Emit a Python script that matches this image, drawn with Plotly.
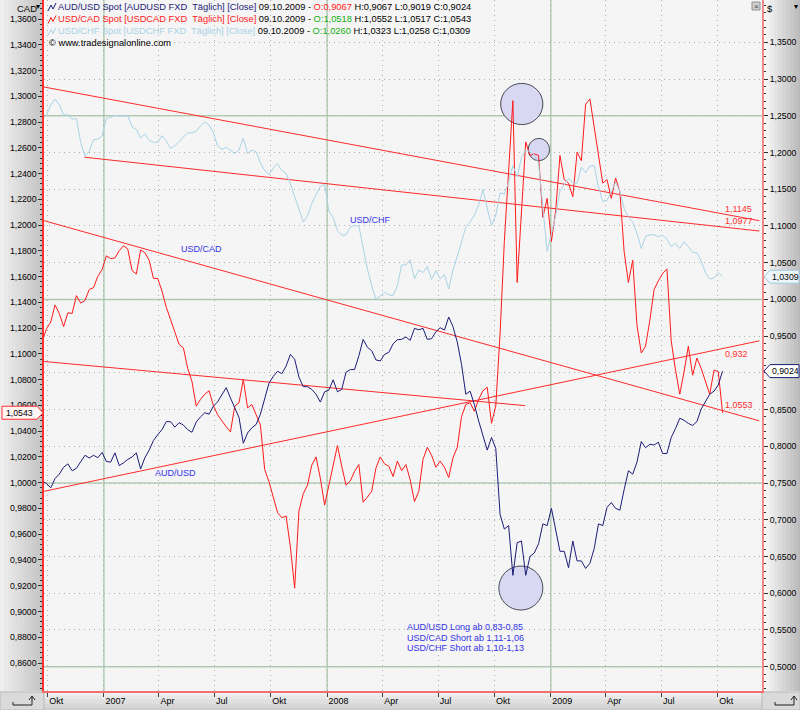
import plotly.graph_objects as go
import pandas as pd

# ---------------- data ----------------
week_dates = pd.date_range("2006-09-22", periods=160, freq="7D")

usdcad = [1.1100, 1.1194, 1.1247, 1.1380, 1.1314, 1.1212, 1.1319, 1.1314, 1.1452, 1.1394,
          1.1415, 1.1500, 1.1514, 1.1602, 1.1655, 1.1761, 1.1740, 1.1745, 1.1801, 1.1839,
          1.1815, 1.1647, 1.1620, 1.1807, 1.1785, 1.1727, 1.1586, 1.1586, 1.1487, 1.1362,
          1.1266, 1.1167, 1.1074, 1.1047, 1.0887, 1.0786, 1.0594, 1.0647, 1.0687, 1.0714,
          1.0599, 1.0527, 1.0479, 1.0434, 1.0394, 1.0594, 1.0621, 1.0802, 1.0581, 1.0607,
          1.0527, 1.0447, 1.0101, 1.0008, 0.9888, 0.9768, 0.9728, 0.9741, 0.9501, 0.9181,
          0.9781, 0.9914, 0.9981, 1.0136, 1.0200, 1.0034, 0.9826, 0.9981, 1.0141, 1.0288,
          1.0128, 0.9981, 1.0013, 1.0088, 1.0141, 0.9848, 0.9888, 0.9933, 1.0114, 1.0200,
          1.0146, 1.0128, 1.0048, 1.0168, 1.0093, 1.0141, 1.0021, 0.9853, 0.9933, 1.0181,
          1.0274, 1.0213, 1.0120, 1.0168, 1.0120, 1.0040, 1.0194, 1.0274, 1.0514, 1.0607,
          1.0621, 1.0554, 1.0647, 1.0714, 1.0741, 1.0461, 1.0594, 1.1154, 1.1873, 1.2380,
          1.2966, 1.1554, 1.2140, 1.2646, 1.2540, 1.2553, 1.2540, 1.2060, 1.2207, 1.1873,
          1.2113, 1.2540, 1.2353, 1.2326, 1.2220, 1.2566, 1.2500, 1.2939, 1.2979, 1.2753,
          1.2540, 1.2326, 1.2353, 1.2207, 1.2366, 1.2260, 1.1793, 1.1554, 1.1727, 1.1220,
          1.1007, 1.1060, 1.1260, 1.1500, 1.1567, 1.1625, 1.1660, 1.1100, 1.0874, 1.0687,
          1.0861, 1.1060, 1.0834, 1.0967, 1.0887, 1.0781, 1.0687, 1.0874, 1.0861, 1.0543]

audusd = [0.7528, 0.7495, 0.7435, 0.7561, 0.7621, 0.7715, 0.7761, 0.7668, 0.7701, 0.7794,
          0.7878, 0.7841, 0.7878, 0.7845, 0.7916, 0.7794, 0.7785, 0.7911, 0.7738, 0.7775,
          0.7822, 0.7855, 0.7911, 0.7691, 0.7845, 0.7948, 0.8079, 0.8158, 0.8228, 0.8336,
          0.8336, 0.8261, 0.8322, 0.8289, 0.8228, 0.8191, 0.8331, 0.8401, 0.8457, 0.8438,
          0.8546, 0.8606, 0.8704, 0.8798, 0.8658, 0.8532, 0.8392, 0.8042, 0.8182, 0.8252,
          0.8298, 0.8438, 0.8662, 0.8859, 0.8952, 0.9022, 0.8989, 0.9092, 0.9251, 0.9185,
          0.8943, 0.8812, 0.8812, 0.8775, 0.8709, 0.8602, 0.8742, 0.8765, 0.8905, 0.8742,
          0.8775, 0.9008, 0.9045, 0.9045, 0.9232, 0.9456, 0.9349, 0.9302, 0.9176, 0.9162,
          0.9251, 0.9279, 0.9395, 0.9451, 0.9456, 0.9489, 0.9442, 0.9606, 0.9587, 0.9606,
          0.9456, 0.9465, 0.9559, 0.9615, 0.9582, 0.9760, 0.9629, 0.9419, 0.9115, 0.8709,
          0.8751, 0.8569, 0.8345, 0.8158, 0.7948, 0.8121, 0.7972, 0.7075, 0.6874, 0.6921,
          0.6244, 0.6688, 0.6711, 0.6244, 0.6501, 0.6548, 0.6674, 0.6944, 0.6921, 0.7155,
          0.6851, 0.6571, 0.6571, 0.6347, 0.6711, 0.6440, 0.6440, 0.6338, 0.6408, 0.6608,
          0.6944, 0.6921, 0.7169, 0.7234, 0.7155, 0.7131, 0.7411, 0.7668, 0.7621, 0.7785,
          0.8065, 0.7981, 0.8028, 0.8018, 0.8056, 0.7902, 0.7902, 0.8121, 0.8242, 0.8382,
          0.8354, 0.8312, 0.8284, 0.8336, 0.8508, 0.8616, 0.8709, 0.8751, 0.8835, 0.9024]

usdchf = [1.2453, 1.2509, 1.2649, 1.2724, 1.2649, 1.2509, 1.2514, 1.2453, 1.2463, 1.2136,
          1.1949, 1.2014, 1.2173, 1.2183, 1.2229, 1.2467, 1.2477, 1.2505, 1.2500, 1.2495,
          1.2509, 1.2346, 1.2313, 1.2197, 1.2253, 1.2164, 1.2141, 1.2136, 1.2229, 1.2155,
          1.2056, 1.2089, 1.2150, 1.2211, 1.2267, 1.2267, 1.2290, 1.2360, 1.2416, 1.2374,
          1.2267, 1.2089, 1.2042, 1.2070, 1.2024, 1.1986, 1.2033, 1.2197, 1.1986, 1.2033,
          1.2010, 1.1860, 1.1753, 1.1697, 1.1790, 1.1846, 1.1753, 1.1716, 1.1576, 1.1403,
          1.1240, 1.1053, 1.1137, 1.1305, 1.1426, 1.1538, 1.1566, 1.1202, 1.1113, 1.0936,
          1.0875, 1.0875, 1.0983, 1.1006, 1.0997, 1.0703, 1.0413, 1.0189, 1.0002, 1.0049,
          1.0096, 1.0063, 1.0049, 1.0189, 1.0469, 1.0469, 1.0539, 1.0282, 1.0399, 1.0366,
          1.0446, 1.0273, 1.0390, 1.0282, 1.0338, 1.0142, 1.0399, 1.0586, 1.0773, 1.0983,
          1.1053, 1.1146, 1.1286, 1.1496, 1.1240, 1.1006, 1.1146, 1.1450, 1.1436, 1.1590,
          1.1823, 1.1669, 1.1930, 1.2033, 1.2010, 1.1963, 1.1856, 1.1263, 1.0656, 1.0889,
          1.1146, 1.1473, 1.1566, 1.1646, 1.1590, 1.1580, 1.1800, 1.1725, 1.1814, 1.1823,
          1.1529, 1.1333, 1.1347, 1.1473, 1.1594, 1.1473, 1.1240, 1.1118, 1.1053, 1.0899,
          1.0693, 1.0861, 1.0880, 1.0880, 1.0852, 1.0875, 1.0819, 1.0717, 1.0763, 1.0693,
          1.0787, 1.0717, 1.0642, 1.0633, 1.0525, 1.0362, 1.0278, 1.0292, 1.0362, 1.0309]

quarter_ticks = ["2006-10-01", "2007-01-01", "2007-04-01", "2007-07-01", "2007-10-01",
                 "2008-01-01", "2008-04-01", "2008-07-01", "2008-10-01", "2009-01-01",
                 "2009-04-01", "2009-07-01", "2009-10-01"]
quarter_labels = ["Okt", "2007", "Apr", "Jul", "Okt", "2008", "Apr", "Jul", "Okt", "2009",
                  "Apr", "Jul", "Okt"]
year_lines = ["2007-01-01", "2008-01-01", "2009-01-01"]

left_ticks = [0.86, 0.88, 0.90, 0.92, 0.94, 0.96, 0.98, 1.00, 1.02, 1.04, 1.06, 1.08, 1.10,
              1.12, 1.14, 1.16, 1.18, 1.20, 1.22, 1.24, 1.26, 1.28, 1.30, 1.32, 1.34, 1.36]
right_ticks = [0.50, 0.55, 0.60, 0.65, 0.70, 0.75, 0.80, 0.85, 0.90, 0.95, 1.00, 1.05,
               1.10, 1.15, 1.20, 1.25, 1.30, 1.35]
right_hidden_labels = [0.90]   # covered by the last-value box in the original
right_major_lines = [0.50, 0.75, 1.00, 1.25]

# hand drawn trend lines (date, CAD-axis value)
trend_x0 = ["2006-09-25", "2006-11-30", "2006-09-25", "2006-09-25", "2006-09-25"]
trend_x1 = ["2009-12-08", "2009-12-08", "2009-12-08", "2008-11-20", "2009-12-08"]
trend_y0 = [1.3072, 1.2527, 1.2034, 1.0941, 0.9933]
trend_y1 = [1.2034, 1.1954, 1.0480, 1.0598, 1.1101]
trend_labels = ["1,1145", "1,0977", "1,0553", "0,932"]

# circled areas (date range, CAD-axis value range)
circle_x0 = ["2008-10-11", "2008-11-25", "2008-10-08"]
circle_x1 = ["2008-12-19", "2008-12-30", "2008-12-19"]
circle_y0 = [1.2780, 1.2500, 0.9011]
circle_y1 = [1.3100, 1.2673, 0.9353]

# ---------------- layout helpers ----------------
W, H = 800, 710
L, R, T, B = 44, 762, 0, 691
Y1_RANGE = [0.83826, 1.37475]
Y2_RANGE = [0.46692, 1.40758]
X_RANGE = ["2006-09-24 23:00", "2009-12-12 12:00"]


def px(p):
    return (p - L) / (R - L)


def py(p):
    return (B - p) / (B - T)


def y1_px(v):
    return T + (Y1_RANGE[1] - v) / (Y1_RANGE[1] - Y1_RANGE[0]) * (B - T)


def y2_px(v):
    return T + (Y2_RANGE[1] - v) / (Y2_RANGE[1] - Y2_RANGE[0]) * (B - T)


def fmt(v):
    return f"{v:.4f}".replace(".", ",")


FONT = "Liberation Sans, Arial, sans-serif"
RED = "#ff1a1a"
NAVY = "#1c1c78"
LBLUE = "#a9d3e6"
TXTBLUE = "#3232e6"
FS = 9

fig = go.Figure()

fig.add_trace(go.Scatter(x=week_dates, y=usdchf, yaxis="y2", mode="lines",
                         line=dict(color=LBLUE, width=1), name="USD/CHF"))
fig.add_trace(go.Scatter(x=week_dates, y=audusd, yaxis="y2", mode="lines",
                         line=dict(color=NAVY, width=1), name="AUD/USD"))
fig.add_trace(go.Scatter(x=week_dates, y=usdcad, yaxis="y", mode="lines",
                         line=dict(color=RED, width=1), name="USD/CAD"))
for a, b, c, d in zip(trend_x0, trend_x1, trend_y0, trend_y1):
    fig.add_trace(go.Scatter(x=[a, b], y=[c, d], yaxis="y", mode="lines",
                             line=dict(color="#ff2a2a", width=1)))

shapes = []
# panels (gradients approximated with strips)
n = 11
for i in range(n):
    t = i / (n - 1)
    g = int(238 - t * (238 - 196))
    shapes.append(dict(type="rect", xref="paper", yref="paper", layer="below",
                       x0=px(i * 4), x1=px(i * 4 + 4), y0=py(B), y1=py(0),
                       line=dict(width=0), fillcolor=f"rgb({g},{g},{g})"))
for i in range(10):
    t = i / 9
    g = int(248 - t * (248 - 186))
    shapes.append(dict(type="rect", xref="paper", yref="paper", layer="below",
                       x0=px(R + 1 + i * 3.8), x1=px(R + 1 + (i + 1) * 3.8), y0=py(B), y1=py(0),
                       line=dict(width=0), fillcolor=f"rgb({g},{g},{g})"))
for i in range(5):
    t = i / 4
    g = int(240 - t * (240 - 206))
    shapes.append(dict(type="rect", xref="paper", yref="paper", layer="below",
                       x0=px(0), x1=px(W), y0=py(B + 1 + i * 3.8), y1=py(B + 1 + (i + 1) * 3.8),
                       line=dict(width=0), fillcolor=f"rgb({g},{g},{g})"))
# corner boxes at bottom
for xa, xb in [(0, L), (R, W)]:
    shapes.append(dict(type="rect", xref="paper", yref="paper", layer="below",
                       x0=px(xa), x1=px(xb), y0=py(H), y1=py(B + 1),
                       line=dict(color="#b8b8b8", width=1), fillcolor="#dadada"))
# corner arrow icons
for xo in [13, 775]:
    shapes.append(dict(type="path", xref="paper", yref="paper",
                       path=f"M {px(xo)},{py(702)} L {px(xo)},{py(705)} L {px(xo + 19)},{py(705)} "
                            f"L {px(xo + 19)},{py(697)}",
                       line=dict(color="#202020", width=1)))
    shapes.append(dict(type="path", xref="paper", yref="paper",
                       path=f"M {px(xo + 16)},{py(700)} L {px(xo + 19)},{py(696)} L {px(xo + 22)},{py(700)}",
                       line=dict(color="#202020", width=1)))

# green year lines / major horizontal lines
for d in year_lines:
    shapes.append(dict(type="line", xref="x", yref="paper", x0=d, x1=d, y0=0, y1=1,
                       layer="between", line=dict(color="#b3cdb3", width=1.5)))
for v in right_major_lines:
    shapes.append(dict(type="line", xref="paper", yref="y2", x0=0, x1=1, y0=v, y1=v,
                       layer="between", line=dict(color="#b3cdb3", width=1.5)))

# circles
for a, b, c, d in zip(circle_x0, circle_x1, circle_y0, circle_y1):
    shapes.append(dict(type="circle", xref="x", yref="y", x0=a, x1=b, y0=c, y1=d,
                       layer="between", fillcolor="#d8d8f2", line=dict(color="#4a4a55", width=1)))

# header icons
for yc, col in [(7, NAVY), (19.5, RED), (31.5, LBLUE)]:
    shapes.append(dict(type="path", xref="paper", yref="paper",
                       path=f"M {px(48)},{py(yc + 4)} L {px(51)},{py(yc - 2)} L {px(53)},{py(yc + 2)} "
                            f"L {px(56)},{py(yc - 4)}",
                       line=dict(color=col, width=1)))

# last value boxes
lv_cad = y1_px(usdcad[-1])
shapes.append(dict(type="path", xref="paper", yref="paper",
                   path=f"M {px(2)},{py(lv_cad - 6.5)} L {px(37)},{py(lv_cad - 6.5)} L {px(43)},{py(lv_cad)} "
                        f"L {px(37)},{py(lv_cad + 6.5)} L {px(2)},{py(lv_cad + 6.5)} Z",
                   fillcolor="#fff4f4", line=dict(color="#ff3030", width=1)))
lv_chf = y2_px(usdchf[-1])
lv_aud = y2_px(audusd[-1])
for yy, col, fillc in [(lv_chf, "#9cc8de", "#eef6fb"), (lv_aud, NAVY, "#ffffff")]:
    shapes.append(dict(type="path", xref="paper", yref="paper",
                       path=f"M {px(764)},{py(yy)} L {px(770)},{py(yy - 6.5)} L {px(799)},{py(yy - 6.5)} "
                            f"L {px(799)},{py(yy + 6.5)} L {px(770)},{py(yy + 6.5)} Z",
                       fillcolor=fillc, line=dict(color=col, width=1)))

# close box
shapes.append(dict(type="rect", xref="paper", yref="paper", x0=px(752), x1=px(760), y0=py(10), y1=py(2),
                   fillcolor="#cfcfcf", line=dict(color="#909090", width=1)))

ann = []


def text(x, y, s, color="black", size=FS, xanchor="left", yanchor="middle"):
    ann.append(dict(xref="paper", yref="paper", x=px(x), y=py(y), text=s, showarrow=False,
                    xanchor=xanchor, yanchor=yanchor, align="left",
                    font=dict(family=FONT, size=size, color=color), borderpad=0))


def span(s, c):
    return f"<span style='color:{c}'>{s}</span>"


HS = 9.3
text(57, 7, span("AUD/USD Spot [AUDUSD FXD&nbsp; Täglich] [Close]", NAVY) + " 09.10.2009 - "
     + span("O:0,9067", "#ff2020") + " H:0,9067 L:0,9019 C:0,9024", size=HS)
text(57, 19.5, span("USD/CAD Spot [USDCAD FXD&nbsp; Täglich] [Close]", "#ff2020") + " 09.10.2009 - "
     + span("O:1,0518", "#10b010") + " H:1,0552 L:1,0517 C:1,0543", size=HS)
text(57, 31.5, span("USD/CHF Spot [USDCHF FXD&nbsp; Täglich] [Close]", "#a8d2e6") + " 09.10.2009 - "
     + span("O:1,0260", "#10b010") + " H:1,0323 L:1,0258 C:1,0309", size=HS)
text(48, 43, "© www.tradesignalonline.com", size=HS)

text(201.5, 249, "USD/CAD", TXTBLUE, 9, "center")
text(175.7, 473, "AUD/USD", TXTBLUE, 9, "center")
text(370.8, 219.7, "USD/CHF", TXTBLUE, 9, "center")

for lbl, yy in zip(trend_labels, [209.4, 220.7, 404.8, 354]):
    text(724, yy, lbl, "#ff3030", 9)

text(406, 627, "AUD/USD Long ab 0,83-0,85", TXTBLUE, 9)
text(406, 637.5, "USD/CAD Short ab 1,11-1,06", TXTBLUE, 9)
text(406, 648, "USD/CHF Short ab 1,10-1,13", TXTBLUE, 9)

text(5, lv_cad, fmt(usdcad[-1]), "black", 8.7)
text(771, lv_chf, fmt(usdchf[-1]), "black", 8.7)
text(771, lv_aud, fmt(audusd[-1]), "black", 8.7)

text(16, 8, "CAD", "black", 9.5)
text(35, 7, "▾", "black", 8)
text(766, 8, "$", "black", 9.5)
text(799, 7, "▾", "black", 8, "right")
text(756, 6, "×", "#404040", 8, "center")

TF = dict(family=FONT, size=8.7, color="black")
right_text = ["" if v in right_hidden_labels else fmt(v) for v in right_ticks]

fig.update_layout(
    width=W, height=H,
    margin=dict(l=L, r=W - R, t=T, b=H - B, pad=0),
    paper_bgcolor="#e6e6e6",
    plot_bgcolor="#f5f5f5",
    separators=",.",
    showlegend=False,
    hovermode=False,
    shapes=shapes,
    annotations=ann,
    font=dict(family=FONT, size=9, color="black"),
    xaxis=dict(type="date", range=X_RANGE, tickmode="array", tickvals=quarter_ticks,
               ticktext=quarter_labels, ticklabelposition="outside right",
               ticks="outside", ticklen=4, tickcolor="#404040",
               showgrid=True, gridcolor="#b0b0b0", griddash="1px,4px", gridwidth=1,
               showline=True, linecolor="#f07070", linewidth=2, zeroline=False,
               tickfont=dict(family=FONT, size=9, color="black")),
    yaxis=dict(range=Y1_RANGE, tickmode="array", tickvals=left_ticks, tickformat=".4f",
               ticks="outside", ticklen=4, tickcolor="#303030",
               minor=dict(ticks="outside", ticklen=2, dtick=0.004, tick0=0.86, tickcolor="#303030"),
               showgrid=False, zeroline=False, showline=True, linecolor="#ff3030", linewidth=1.5,
               tickfont=TF),
    yaxis2=dict(range=Y2_RANGE, overlaying="y", side="right", tickmode="array",
                tickvals=right_ticks, ticktext=right_text, ticks="outside", ticklen=4,
                tickcolor="#303030",
                minor=dict(ticks="outside", ticklen=2, dtick=0.01, tick0=0.5, tickcolor="#303030"),
                showgrid=True, gridcolor="#b0b0b0", griddash="1px,4px", gridwidth=1,
                zeroline=False, showline=True, linecolor="#f08a8a", linewidth=2,
                tickfont=TF),
)

fig.write_html("out.html")
